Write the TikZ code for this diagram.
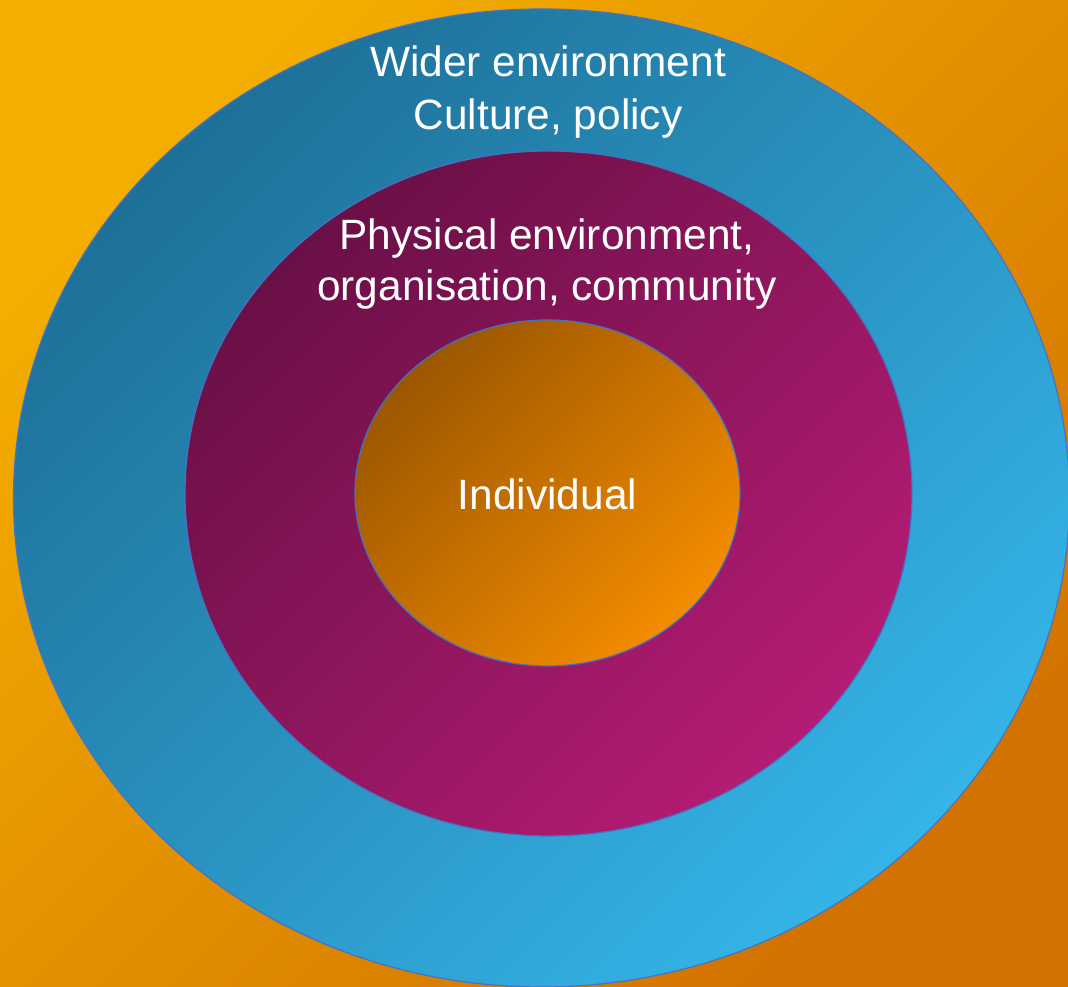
\documentclass[tikz,border=0pt]{standalone}
\usepackage{fontspec}
\setmainfont{Liberation Sans}
\usetikzlibrary{shapes.geometric}

\definecolor{bgA}{HTML}{F4AE00}
\definecolor{bgB}{HTML}{D27200}
\definecolor{blueA}{HTML}{1E7098}
\definecolor{blueB}{HTML}{35B4E8}
\definecolor{plumA}{HTML}{6A1046}
\definecolor{plumB}{HTML}{B41C74}
\definecolor{coreA}{HTML}{9C5700}
\definecolor{coreB}{HTML}{F48C00}
\definecolor{rim}{HTML}{4472C4}

\tikzset{
  % diagonal fill: first colour at the top left, second at the bottom right
  diagfill/.style 2 args={top color=#1, bottom color=#2, shading angle=45},
  ring/.style={ellipse, inner sep=0pt, draw=rim, line width=1.2pt},
  caption/.style={text=white, font=\fontsize{42.4}{52}\selectfont, anchor=base, inner sep=0pt}
}

\begin{document}
\begin{tikzpicture}[x=1pt,y=1pt]
  \useasboundingbox (0,0) rectangle (1068,987);
  \clip (0,0) rectangle (1068,987);
  % backdrop
  \shade[diagfill={bgA}{bgB}] (0,0) rectangle (1068,987);

  % nested ellipses, outer to inner
  \node[ring, diagfill={blueA}{blueB},
        minimum width=1056pt, minimum height=978pt] (outer) at (541.5,489) {};
  \node[ring, diagfill={plumA}{plumB},
        minimum width=727pt, minimum height=685pt] (middle) at (548.5,493.5) {};
  \node[ring, diagfill={coreA}{coreB},
        minimum width=385pt, minimum height=346pt] (inner) at (547.5,494) {};

  % captions
  \node[caption] (w1) at (548,910) {Wider environment};
  \node[caption] (w2) at (548,857) {Culture, policy};
  \node[caption] (p1) at (547,737) {Physical environment,};
  \node[caption] (p2) at (547,686) {organisation, community};
  \node[caption] (i1) at (547.5,477) {Individual};
\end{tikzpicture}
\end{document}
